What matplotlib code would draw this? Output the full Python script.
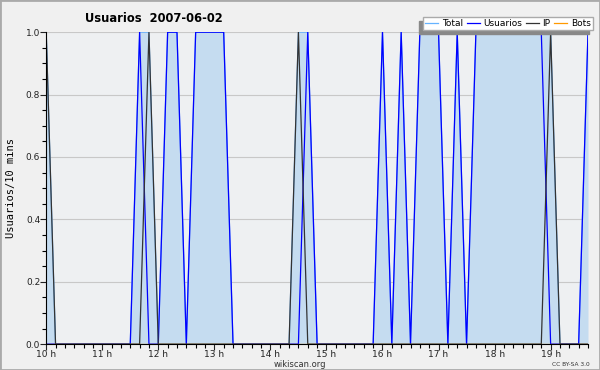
import matplotlib
matplotlib.use("Agg")
import matplotlib.pyplot as plt
from matplotlib.patches import Rectangle
from matplotlib.ticker import MultipleLocator, FormatStrFormatter

# 10-minute slots starting at 10:00 (index 0) up to 19:40 (index 58)
usuarios = [0, 0, 0, 0, 0, 0, 0, 0, 0, 0,
            1, 0, 0, 1, 1, 0, 1, 1, 1, 1,
            0, 0, 0, 0, 0, 0, 0, 0, 1, 0,
            0, 0, 0, 0, 0, 0, 1, 0, 1, 0,
            1, 1, 1, 0, 1, 0, 1, 1, 1, 1,
            1, 1, 1, 1, 0, 0, 0, 0, 1]
ip = [1, 0, 0, 0, 0, 0, 0, 0, 0, 0,
      0, 1, 0, 0, 0, 0, 0, 0, 0, 0,
      0, 0, 0, 0, 0, 0, 0, 1, 0, 0,
      0, 0, 0, 0, 0, 0, 0, 0, 0, 0,
      0, 0, 0, 0, 0, 0, 0, 0, 0, 0,
      0, 0, 0, 0, 1, 0, 0, 0, 0]
bots = [0] * 59
total = [u + i + b for u, i, b in zip(usuarios, ip, bots)]
horas = [10 + k / 6 for k in range(len(total))]
hour_ticks = list(range(10, 20))
hour_labels = ["%d h" % h for h in hour_ticks]

fig = plt.figure(figsize=(6, 3.7), dpi=100, facecolor="#f0f0f0")
ax = fig.add_axes([0.077, 0.070, 0.903, 0.843])
ax.set_facecolor("#eef0f2")

ax.fill_between(horas, total, 0, color="#c5dcf0", lw=0)
ax.plot(horas, total, color="#66b3ff", lw=0.9, label="Total")
ax.plot(horas, usuarios, color="#0000ff", lw=0.9, label="Usuarios")
ax.plot(horas, ip, color="#333333", lw=0.9, label="IP")
ax.plot(horas, bots, color="#ff9900", lw=0.9, label="Bots")

ax.set_xlim(horas[0], horas[-1])
ax.set_ylim(0, 1)
ax.set_xticks(hour_ticks)
ax.set_xticklabels(hour_labels)
ax.xaxis.set_minor_locator(MultipleLocator(1 / 6))
ax.yaxis.set_major_locator(MultipleLocator(0.2))
ax.yaxis.set_minor_locator(MultipleLocator(0.05))
ax.yaxis.set_major_formatter(FormatStrFormatter("%.1f"))
ax.tick_params(which="major", length=4, width=0.8, labelsize=6.5, pad=0.3,
               colors="#222222")
ax.tick_params(which="minor", length=3, width=0.8)
ax.grid(axis="y", color="#c8c8c8", lw=0.8)
ax.set_axisbelow(True)
for s in ["top", "right"]:
    ax.spines[s].set_visible(False)
ax.set_ylabel("Usuarios/10 mins", family="DejaVu Sans Mono", fontsize=7.5,
              labelpad=7)

leg = ax.legend(loc="upper right", bbox_to_anchor=(0.988, 0.955),
                bbox_transform=fig.transFigure, ncol=4, fontsize=6.5,
                frameon=True, fancybox=False, handlelength=1.4,
                handletextpad=0.4, columnspacing=0.45, borderpad=0.25,
                borderaxespad=0,
                shadow={"ox": -3, "oy": -3, "color": "#888888", "alpha": 1})
leg.get_frame().set_edgecolor("#aaaaaa")
leg.get_frame().set_facecolor("white")
leg.get_frame().set_alpha(1)

fig.text(0.142, 0.951, "Usuarios  2007-06-02", fontsize=8.3,
         fontweight="bold", va="center", ha="left")
fig.text(0.5, 0.016, "wikiscan.org", fontsize=6, ha="center",
         va="center", color="#333333")
fig.text(0.983, 0.016, "CC BY-SA 3.0", fontsize=4.2, ha="right",
         va="center", color="#333333")

fig.patches.append(Rectangle((0, 0), 1, 1, transform=fig.transFigure,
                             fill=False, edgecolor="#aaaaaa", lw=2))

fig.savefig("out.png", dpi=100, facecolor=fig.get_facecolor())
